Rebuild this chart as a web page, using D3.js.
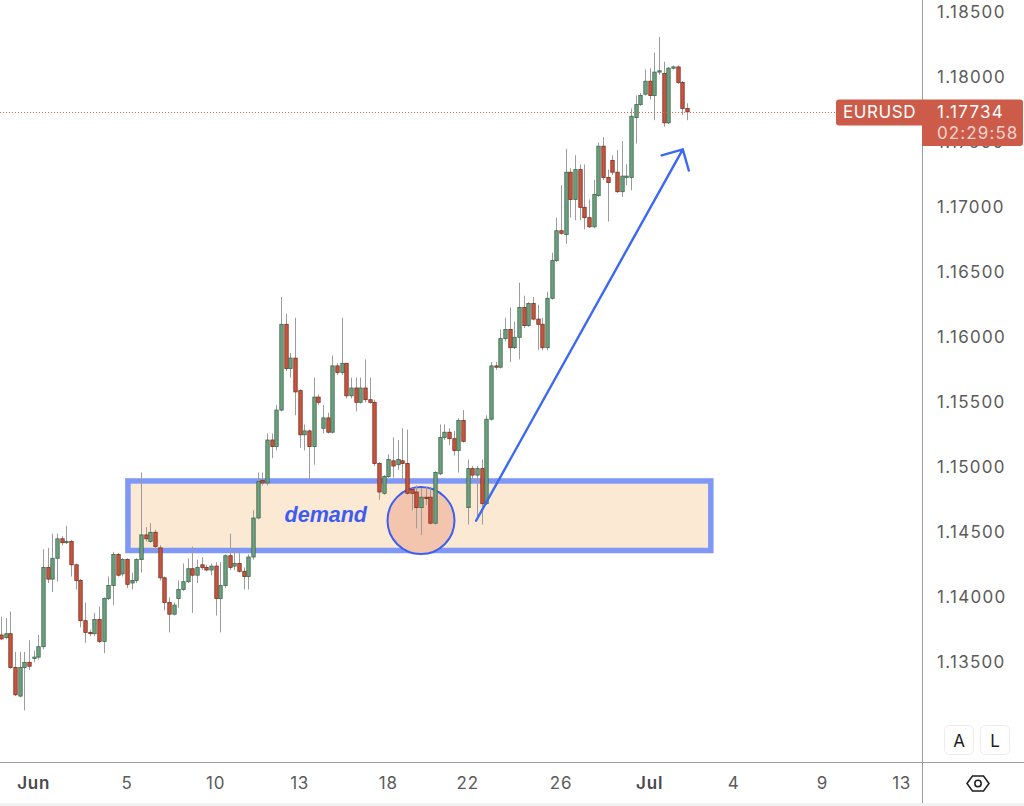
<!DOCTYPE html>
<html>
<head>
<meta charset="utf-8">
<script src="https://cdn.jsdelivr.net/npm/d3@7"></script>
<style>
  html, body { margin: 0; padding: 0; background: #ffffff; }
  svg { display: block; }
</style>
</head>
<body>
<script>
// ---------------- DATA (EURUSD, 4h candles) ----------------
const opens = [
1.1371,1.1369,1.1372,1.1346,1.1324,1.1346,1.1350,1.1353,1.1354,1.1362,
1.1423,1.1414,1.1430,1.1445,1.1442,1.1443,1.1425,1.1413,1.1382,1.1373,
1.1372,1.1383,1.1366,1.1399,1.1409,1.1433,1.1418,1.1429,1.1411,1.1413,
1.1429,1.1448,1.1443,1.1450,1.1438,1.1415,1.1396,1.1387,1.1399,1.1406,
1.1412,1.1422,1.1417,1.1425,1.1423,1.1421,1.1424,1.1399,1.1409,1.1432,
1.1424,1.1426,1.1420,1.1416,1.1431,1.1461,1.1490,1.1488,1.1521,1.1516,
1.1544,1.1610,1.1576,1.1584,1.1559,1.1525,1.1528,1.1516,1.1554,1.1530,
1.1538,1.1527,1.1578,1.1573,1.1580,1.1555,1.1561,1.1550,1.1561,1.1552,
1.1550,1.1503,1.1480,1.1493,1.1505,1.1502,1.1505,1.1503,1.1483,1.1481,
1.1469,1.1477,1.1477,1.1457,1.1495,1.1523,1.1527,1.1522,1.1513,1.1536,
1.1469,1.1499,1.1494,1.1499,1.1472,1.1537,1.1578,1.1577,1.1599,1.1606,
1.1592,1.1600,1.1623,1.1609,1.1626,1.1614,1.1610,1.1592,1.1630,1.1659,
1.1682,1.1679,1.1727,1.1706,1.1729,1.1700,1.1692,1.1685,1.1709,1.1747,
1.1723,1.1736,1.1727,1.1712,1.1723,1.1723,1.1769,1.1779,1.1787,1.1797,
1.1786,1.1804,1.1803,1.1765,1.1807,1.1808,1.1796,1.1776];
const highs = [
1.1385,1.1384,1.1389,1.1358,1.1358,1.1358,1.1367,1.1359,1.1371,1.1437,
1.1438,1.1449,1.1449,1.1447,1.1455,1.1444,1.1426,1.1414,1.1396,1.1375,
1.1388,1.1393,1.1400,1.1416,1.1435,1.1434,1.1430,1.1430,1.1419,1.1430,
1.1496,1.1454,1.1457,1.1452,1.1440,1.1416,1.1400,1.1396,1.1413,1.1426,
1.1430,1.1439,1.1429,1.1431,1.1425,1.1426,1.1427,1.1427,1.1433,1.1449,
1.1436,1.1436,1.1423,1.1433,1.1467,1.1496,1.1496,1.1526,1.1526,1.1548,
1.1631,1.1618,1.1588,1.1615,1.1560,1.1533,1.1529,1.1569,1.1556,1.1548,
1.1542,1.1586,1.1580,1.1615,1.1580,1.1569,1.1569,1.1569,1.1583,1.1569,
1.1552,1.1504,1.1494,1.1510,1.1523,1.1521,1.1530,1.1529,1.1484,1.1486,
1.1484,1.1485,1.1485,1.1497,1.1533,1.1533,1.1530,1.1528,1.1538,1.1544,
1.1506,1.1501,1.1501,1.1506,1.1540,1.1581,1.1581,1.1606,1.1615,1.1623,
1.1612,1.1642,1.1632,1.1627,1.1631,1.1625,1.1615,1.1635,1.1665,1.1692,
1.1717,1.1745,1.1730,1.1740,1.1733,1.1733,1.1706,1.1721,1.1750,1.1754,
1.1729,1.1740,1.1744,1.1751,1.1733,1.1776,1.1786,1.1788,1.1806,1.1807,
1.1819,1.1831,1.1812,1.1808,1.1809,1.1809,1.1797,1.1780];
const lows = [
1.1367,1.1368,1.1345,1.1324,1.1323,1.1313,1.1344,1.1350,1.1352,1.1360,
1.1411,1.1404,1.1412,1.1440,1.1441,1.1416,1.1406,1.1377,1.1365,1.1370,
1.1370,1.1365,1.1357,1.1398,1.1394,1.1416,1.1416,1.1407,1.1406,1.1411,
1.1419,1.1443,1.1442,1.1434,1.1413,1.1390,1.1373,1.1386,1.1392,1.1405,
1.1411,1.1388,1.1411,1.1421,1.1420,1.1417,1.1386,1.1373,1.1407,1.1421,
1.1421,1.1419,1.1406,1.1406,1.1429,1.1460,1.1486,1.1486,1.1507,1.1513,
1.1543,1.1574,1.1569,1.1540,1.1515,1.1513,1.1489,1.1502,1.1548,1.1526,
1.1526,1.1526,1.1571,1.1571,1.1553,1.1553,1.1543,1.1549,1.1550,1.1549,
1.1501,1.1475,1.1479,1.1492,1.1492,1.1498,1.1490,1.1479,1.1467,1.1453,
1.1448,1.1471,1.1456,1.1456,1.1494,1.1521,1.1517,1.1509,1.1496,1.1519,
1.1456,1.1490,1.1460,1.1456,1.1471,1.1536,1.1575,1.1576,1.1597,1.1581,
1.1591,1.1583,1.1607,1.1608,1.1613,1.1590,1.1590,1.1590,1.1629,1.1658,
1.1679,1.1672,1.1692,1.1690,1.1690,1.1683,1.1684,1.1684,1.1708,1.1721,
1.1689,1.1725,1.1711,1.1708,1.1717,1.1713,1.1749,1.1778,1.1786,1.1783,
1.1767,1.1802,1.1762,1.1764,1.1806,1.1795,1.1771,1.1767];
const closes = [
1.1368,1.1372,1.1346,1.1325,1.1346,1.1350,1.1347,1.1354,1.1362,1.1423,
1.1414,1.1430,1.1445,1.1442,1.1443,1.1425,1.1413,1.1382,1.1373,1.1372,
1.1383,1.1366,1.1399,1.1409,1.1433,1.1417,1.1429,1.1410,1.1413,1.1429,
1.1448,1.1445,1.1450,1.1439,1.1415,1.1396,1.1387,1.1394,1.1406,1.1412,
1.1422,1.1417,1.1423,1.1423,1.1421,1.1424,1.1399,1.1409,1.1432,1.1423,
1.1426,1.1420,1.1416,1.1431,1.1461,1.1489,1.1488,1.1521,1.1516,1.1544,
1.1610,1.1576,1.1584,1.1558,1.1525,1.1528,1.1516,1.1554,1.1550,1.1538,
1.1527,1.1578,1.1573,1.1580,1.1555,1.1561,1.1550,1.1561,1.1552,1.1550,
1.1503,1.1481,1.1493,1.1506,1.1501,1.1506,1.1503,1.1480,1.1480,1.1469,
1.1477,1.1476,1.1457,1.1496,1.1523,1.1527,1.1522,1.1513,1.1536,1.1520,
1.1499,1.1494,1.1499,1.1472,1.1537,1.1578,1.1577,1.1599,1.1606,1.1592,
1.1600,1.1623,1.1609,1.1626,1.1614,1.1610,1.1592,1.1630,1.1659,1.1682,
1.1680,1.1727,1.1706,1.1729,1.1700,1.1692,1.1685,1.1710,1.1747,1.1723,
1.1719,1.1727,1.1712,1.1724,1.1724,1.1770,1.1779,1.1786,1.1797,1.1786,
1.1804,1.1805,1.1765,1.1807,1.1808,1.1796,1.1776,1.17734];

// Price axis ticks
const priceTicks = [1.135, 1.140, 1.145, 1.150, 1.155, 1.160, 1.165, 1.170, 1.175, 1.180, 1.185];
// Time axis labels and the bar index they sit on
const dateLabels = ["Jun", "5", "10", "13", "18", "22", "26", "Jul", "4", "9", "13"];
const dateBars   = [7, 27, 46, 64, 83, 100, 120, 139, 157, 176, 193];
const dateBold   = [true, false, false, false, false, false, false, true, false, false, false];

// Annotations (bar index / price)
const zoneBars   = [27.2, 152.1];
const zonePrices = [1.14895, 1.14360];
const circleAt   = [90.0, 1.14590];
const arrowBars   = [101.8, 146.1];
const arrowPrices = [1.14589, 1.17446];
const symbol = "EURUSD";
const lastPrice = 1.17734;
const countdown = "02:29:58";

// ---------------- CHART ----------------
const W = 1024, H = 806;
const plotRight = 922, plotBottom = 762;

const svg = d3.select("body").append("svg").attr("width", W).attr("height", H)
  .style("font-family", "Inter, 'Noto Sans', sans-serif");

svg.append("rect").attr("width", W).attr("height", H).attr("fill", "#ffffff");

const x = d3.scaleLinear().domain([0, 147]).range([1, 687]);
const y = d3.scaleLinear().domain([1.135, 1.185]).range([662.3, 12.3]);

const plot = svg.append("g");
plot.append("clipPath").attr("id", "clip").append("rect")
  .attr("width", plotRight).attr("height", plotBottom);
const pg = plot.append("g").attr("clip-path", "url(#clip)");

// demand zone
pg.append("rect")
  .attr("x", x(zoneBars[0])).attr("y", y(zonePrices[0]))
  .attr("width", x(zoneBars[1]) - x(zoneBars[0]))
  .attr("height", y(zonePrices[1]) - y(zonePrices[0]))
  .attr("fill", "#fbe9d3").attr("stroke", "#7f98f7").attr("stroke-width", 5.5);

// circle
pg.append("circle").attr("cx", x(circleAt[0])).attr("cy", y(circleAt[1])).attr("r", 33.5)
  .attr("fill", "#f3c4ae").attr("stroke", "#3c5ff0").attr("stroke-width", 2);

// candles
const candles = opens.map((o, i) => ({i, o, h: highs[i], l: lows[i], c: closes[i]}));
const up = d => d.c >= d.o;
pg.append("g").selectAll("line").data(candles).join("line")
  .attr("x1", d => Math.round(x(d.i)) + 0.5).attr("x2", d => Math.round(x(d.i)) + 0.5)
  .attr("y1", d => y(d.h)).attr("y2", d => y(d.l))
  .attr("stroke", "#9c9c9c").attr("stroke-width", 1);
pg.append("g").selectAll("rect").data(candles).join("rect")
  .attr("x", d => Math.round(x(d.i)) + 0.5 - 1.7)
  .attr("width", 3.4)
  .attr("y", d => y(Math.max(d.o, d.c)))
  .attr("height", d => Math.max(1, Math.abs(y(d.o) - y(d.c))))
  .attr("fill", d => up(d) ? "#6d9f80" : "#c8563f")
  .attr("stroke", d => up(d) ? "#3a6a4a" : "#7e2d1e")
  .attr("stroke-width", 0.8);

// "demand" label
pg.append("text").attr("x", x(circleAt[0]) - 54).attr("y", y(circleAt[1]) + 1)
  .attr("text-anchor", "end")
  .style("font-family", "'Liberation Sans', Arial, sans-serif")
  .style("font-size", "21.5px").style("font-weight", "bold").style("font-style", "italic")
  .attr("fill", "#3d5cf0").text("demand");

// arrow
const ax0 = x(arrowBars[0]), ay0 = y(arrowPrices[0]);
const ax1 = x(arrowBars[1]), ay1 = y(arrowPrices[1]);
const ang = Math.atan2(ay0 - ay1, ax0 - ax1);
const headLen = 22, spread = Math.PI / 4;
const arrowPath = d3.path();
arrowPath.moveTo(ax0, ay0); arrowPath.lineTo(ax1, ay1);
arrowPath.moveTo(ax1 + headLen * Math.cos(ang - spread), ay1 + headLen * Math.sin(ang - spread));
arrowPath.lineTo(ax1, ay1);
arrowPath.lineTo(ax1 + headLen * Math.cos(ang + spread), ay1 + headLen * Math.sin(ang + spread));
pg.append("path").attr("d", arrowPath.toString()).attr("fill", "none")
  .attr("stroke", "#3b68f5").attr("stroke-width", 2.4).attr("stroke-linecap", "round")
  .attr("stroke-linejoin", "round");

// last price dotted line
pg.append("line").attr("x1", 0).attr("x2", 836)
  .attr("y1", Math.round(y(lastPrice)) + 0.5).attr("y2", Math.round(y(lastPrice)) + 0.5)
  .attr("stroke", "#e0604a").attr("stroke-width", 1).attr("stroke-dasharray", "1,2");

// separators
svg.append("line").attr("x1", plotRight + 0.5).attr("x2", plotRight + 0.5)
  .attr("y1", 0).attr("y2", 803).attr("stroke", "#9e9e9e").attr("stroke-width", 1);
svg.append("line").attr("x1", 0).attr("x2", W).attr("y1", plotBottom + 0.5).attr("y2", plotBottom + 0.5)
  .attr("stroke", "#9e9e9e").attr("stroke-width", 1);
svg.append("rect").attr("x", 0).attr("y", 803).attr("width", W).attr("height", 3).attr("fill", "#f2f2f2");

// price axis (the 1.17500 label sits under the last-price tag, as in the original)
const fmt = d3.format(".5f");
svg.append("g").selectAll("text").data(priceTicks).join("text")
  .attr("x", 937).attr("y", d => y(d)).attr("dy", "0.36em")
  .style("font-size", "17px").style("letter-spacing", "1.3px")
  .attr("fill", "#5b5b5b").text(d => fmt(d));

// time axis
svg.append("g").selectAll("text").data(dateLabels).join("text")
  .attr("x", (d, k) => x(dateBars[k])).attr("y", 783).attr("dy", "0.36em")
  .attr("text-anchor", "middle")
  .style("font-size", "17px").style("letter-spacing", "0.8px")
  .style("font-weight", (d, k) => dateBold[k] ? 600 : 400)
  .attr("fill", (d, k) => dateBold[k] ? "#4a4a4a" : "#5b5b5b")
  .text(d => d);

// last price tags
const tagY = y(lastPrice);
svg.append("path")
  .attr("d", `M${plotRight},${tagY - 12.5} H839 Q836,${tagY - 12.5} 836,${tagY - 9.5} V${tagY + 10.5} Q836,${tagY + 13.5} 839,${tagY + 13.5} H${plotRight} Z`)
  .attr("fill", "#cc5c49");
svg.append("path")
  .attr("d", `M${plotRight},${tagY - 12.5} H1020 Q1023,${tagY - 12.5} 1023,${tagY - 9.5} V${tagY + 31} Q1023,${tagY + 34} 1020,${tagY + 34} H${plotRight} Z`)
  .attr("fill", "#cc5c49");
svg.append("text").attr("x", 879.5).attr("y", tagY).attr("dy", "0.36em").attr("text-anchor", "middle")
  .style("font-size", "17px").style("letter-spacing", "0.6px").attr("fill", "#ffffff").text(symbol);
svg.append("text").attr("x", 937).attr("y", tagY).attr("dy", "0.36em")
  .style("font-size", "17px").style("letter-spacing", "1.3px").attr("fill", "#ffffff").text(fmt(lastPrice));
svg.append("text").attr("x", 937).attr("y", tagY + 21).attr("dy", "0.36em")
  .style("font-size", "17px").style("letter-spacing", "1.1px").attr("fill", "#f3d3cc").text(countdown);

// A / L buttons
const btns = [["A", 944], ["L", 980]];
const bg = svg.append("g").selectAll("g").data(btns).join("g");
bg.append("rect").attr("x", d => d[1] + 0.5).attr("y", 725.5).attr("width", 29).attr("height", 29)
  .attr("rx", 5).attr("fill", "#ffffff").attr("stroke", "#ececec");
bg.append("text").attr("x", d => d[1] + 15).attr("y", 741).attr("dy", "0.36em")
  .attr("text-anchor", "middle").style("font-size", "17px").attr("fill", "#1e1e1e").text(d => d[0]);

// settings hexagon icon
const hx = 978, hy = 783.5;
const hex = d3.path();
hex.moveTo(hx - 11, hy); hex.lineTo(hx - 5.5, hy - 7.5); hex.lineTo(hx + 5.5, hy - 7.5);
hex.lineTo(hx + 11, hy); hex.lineTo(hx + 5.5, hy + 7.5); hex.lineTo(hx - 5.5, hy + 7.5); hex.closePath();
svg.append("path").attr("d", hex.toString()).attr("fill", "none").attr("stroke", "#1e1e1e").attr("stroke-width", 1.5)
  .attr("stroke-linejoin", "miter");
svg.append("circle").attr("cx", hx).attr("cy", hy).attr("r", 3.2).attr("fill", "none")
  .attr("stroke", "#1e1e1e").attr("stroke-width", 1.5);
</script>
</body>
</html>
